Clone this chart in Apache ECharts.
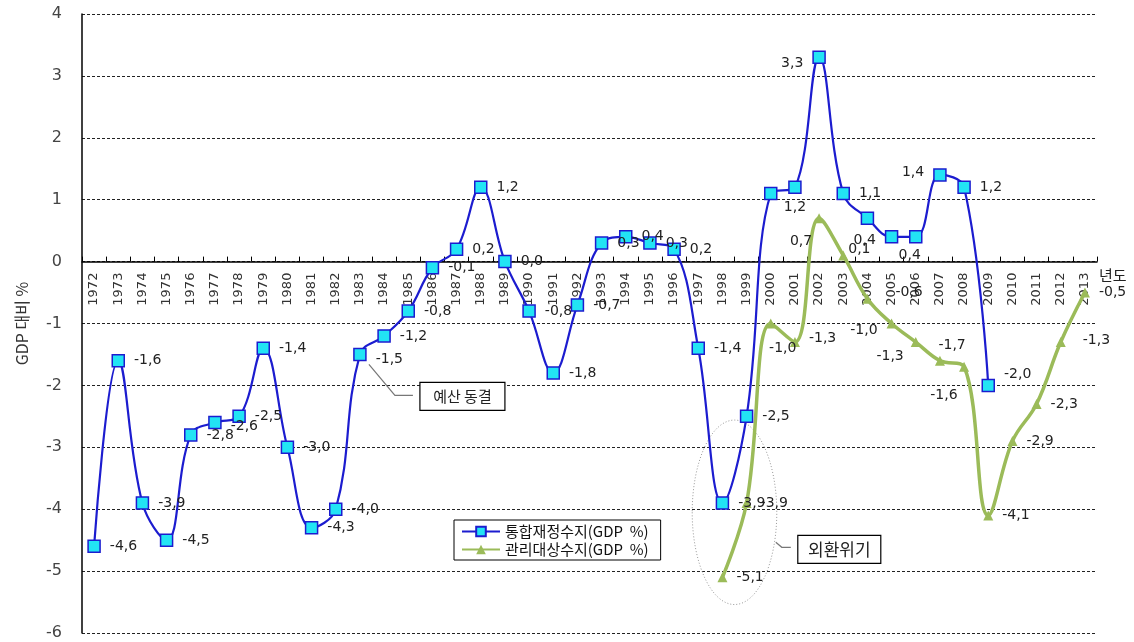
<!DOCTYPE html>
<html>
<head>
<meta charset="utf-8">
<script src="https://cdn.jsdelivr.net/npm/echarts@6/dist/echarts.min.js"></script>
<style>
html,body{margin:0;padding:0;background:#fff;}
#chart{width:1134px;height:642px;}
</style>
</head>
<body>
<div id="chart"></div>
<script>
// ---- data ----
const years = ['1972','1973','1974','1975','1976','1977','1978','1979','1980','1981','1982','1983','1984','1985','1986','1987','1988','1989','1990','1991','1992','1993','1994','1995','1996','1997','1998','1999','2000','2001','2002','2003','2004','2005','2006','2007','2008','2009','2010','2011','2012','2013'];
const consolidatedBalance = [-4.6,-1.6,-3.9,-4.5,-2.8,-2.6,-2.5,-1.4,-3.0,-4.3,-4.0,-1.5,-1.2,-0.8,-0.1,0.2,1.2,0.0,-0.8,-1.8,-0.7,0.3,0.4,0.3,0.2,-1.4,-3.9,-2.5,1.1,1.2,3.3,1.1,0.7,0.4,0.4,1.4,1.2,-2.0,null,null,null,null];
const managedBalance = [null,null,null,null,null,null,null,null,null,null,null,null,null,null,null,null,null,null,null,null,null,null,null,null,null,null,-5.1,-3.9,-1.0,-1.3,0.7,0.1,-0.6,-1.0,-1.3,-1.6,-1.7,-4.1,-2.9,-2.3,-1.3,-0.5];
const yTicks = {min:-6, max:4, interval:1};
const seriesNames = ['통합재정수지(GDP  %)','관리대상수지(GDP  %)'];
const yAxisName = 'GDP 대비 %';
const xAxisName = '년도';
const notes = {budgetFreeze:'예산 동결', crisis:'외환위기'};

// ---- label placement (style only) ----
const numFont = 'DejaVu Sans';
const blueLabelPlace = {
  '1977': {offset:[0,4]},
  '1983': {offset:[0,5]},
  '2000': {show:false},
  '2001': {position:'bottom', distance:6},
  '2002': {position:'left', offset:[0,6]},
  '2004': {show:false},
  '2005': {position:'left', offset:[0,4]},
  '2006': {position:'bottom', offset:[-6,-4]},
  '2007': {position:'left', offset:[0,-3]},
  '2009': {offset:[0,-11]}
};
const greenLabelPlace = {
  '2000': {position:'bottom', offset:[12,4]},
  '2001': {offset:[0,-4]},
  '2002': {position:'bottom', offset:[-18,2]},
  '2003': {position:'right', distance:0, offset:[0,-6]},
  '2004': {offset:[14,-6]},
  '2005': {position:'left', offset:[0,7]},
  '2006': {position:'left', offset:[2,14]},
  '2007': {position:'bottom', offset:[4,14]},
  '2008': {position:'top', offset:[-12,0]},
  '2012': {offset:[8,-2]}
};
function fmt(v){ return v.toFixed(1).replace('.', ','); }
function buildData(values, place){
  return values.map((v,i)=>{
    if(v===null) return null;
    const p = place[years[i]];
    return p ? {value:v, label:Object.assign({}, p)} : v;
  });
}

const chart = echarts.init(document.getElementById('chart'));
const labelBase = {show:true, position:'right', distance:9, fontFamily:numFont, fontSize:14, color:'#222',
  formatter: p => fmt(p.value)};

const option = {
  animation:false,
  backgroundColor:'#fff',
  grid:{left:82, right:37, top:14, bottom:9, containLabel:false, outerBoundsMode:'none'},
  legend:{
    orient:'vertical', left:454, top:520,
    backgroundColor:'#fff', borderColor:'#000', borderWidth:1, borderRadius:0,
    padding:[4,12,3,7], itemGap:3, itemWidth:38, itemHeight:12,
    textStyle:{fontFamily:'Noto Sans CJK KR', fontSize:15, color:'#111'},
    data:seriesNames
  },
  xAxis:{
    type:'category', data:years, boundaryGap:true, position:'bottom', offset:0,
    name:xAxisName, nameLocation:'end', nameGap:2,
    nameTextStyle:{fontFamily:'Noto Sans CJK KR', fontSize:15, color:'#222', align:'left', verticalAlign:'top', padding:[6,0,0,0]},
    axisLine:{onZero:false, lineStyle:{color:'#000', width:1.5}},
    axisTick:{show:true, inside:true, length:5, interval:0, lineStyle:{color:'#000'}},
    axisLabel:{interval:0, rotate:90, margin:11, fontFamily:numFont, fontSize:13, color:'#333'},
    splitLine:{show:false}
  },
  yAxis:{
    type:'value', min:yTicks.min, max:yTicks.max, interval:yTicks.interval,
    name:yAxisName, nameLocation:'middle', nameGap:52, nameRotate:90,
    nameTextStyle:{fontFamily:'Noto Sans CJK KR', fontSize:16, color:'#333'},
    axisLine:{show:true, lineStyle:{color:'#000', width:1.5}},
    axisTick:{show:false},
    axisLabel:{margin:20, fontFamily:numFont, fontSize:16, color:'#444'},
    splitLine:{show:true, lineStyle:{color:'#222', width:1, type:[3,2]}}
  },
  series:[
    {
      name:seriesNames[0], type:'line', smooth:0.4, connectNulls:false,
      data:buildData(consolidatedBalance, blueLabelPlace),
      lineStyle:{color:'#1c1ccf', width:2.2},
      itemStyle:{color:'#22e4f4', borderColor:'#1c1ccf', borderWidth:1.5},
      symbol:'rect', symbolSize:12, showAllSymbol:true,
      label:labelBase, z:3
    },
    {
      name:seriesNames[1], type:'line', smooth:0.4, connectNulls:false,
      data:buildData(managedBalance, greenLabelPlace),
      lineStyle:{color:'#9bbb59', width:3.5},
      itemStyle:{color:'#9bbb59', borderColor:'#9bbb59', borderWidth:0},
      symbol:'triangle', symbolSize:10, showAllSymbol:true,
      label:labelBase, z:2
    }
  ]
};
chart.setOption(option);

function px(cat, val){ return chart.convertToPixel({xAxisIndex:0, yAxisIndex:0}, [cat, val]); }

// move the category axis up to the zero line (repeat in case the layout reflows)
for (let k = 0; k < 3; k++) {
  const zeroY = px('1972', 0)[1];
  const bottomY = px('1972', yTicks.min)[1];
  chart.setOption({xAxis:{offset:-(bottomY - zeroY)}});
}

// ---- annotations anchored to data coordinates ----
const a1 = px('1983', -1.5);
const c1 = px('1998', -4.05), c2 = px('1999', -4.05);
const ecx = (c1[0]+c2[0])/2, ecy = c1[1];
const catW = c2[0]-c1[0];
const unitH = px('1998', -4)[1] - px('1998', -5)[1];
const erx = catW*1.75, ery = unitH*1.49;

chart.setOption({
  graphic:[
    {type:'polyline', z:10, silent:true,
      shape:{points:[[a1[0]+9,a1[1]+10],[a1[0]+35,a1[1]+41],[a1[0]+53,a1[1]+41]]},
      style:{stroke:'#777', lineWidth:1.2, fill:null}},
    {type:'group', z:10, x:a1[0]+60, y:a1[1]+28, children:[
      {type:'rect', shape:{x:0,y:0,width:85,height:28}, style:{fill:'#fff', stroke:'#000', lineWidth:1.2}},
      {type:'text', x:42.5, y:14, style:{text:notes.budgetFreeze, fontFamily:'Noto Sans CJK KR', fontSize:15, fill:'#222', align:'center', verticalAlign:'middle'}}
    ]},
    {type:'ellipse', z:1, silent:true,
      shape:{cx:ecx, cy:ecy, rx:erx, ry:ery},
      style:{fill:null, stroke:'#999', lineWidth:1, lineDash:[1,2]}},
    {type:'polyline', z:10, silent:true,
      shape:{points:[[ecx+erx-1, ecy+30],[ecx+erx+5, ecy+35],[ecx+erx+14, ecy+35]]},
      style:{stroke:'#777', lineWidth:1.2, fill:null}},
    {type:'group', z:10, x:ecx+erx+21, y:ecy+23, children:[
      {type:'rect', shape:{x:0,y:0,width:83,height:28}, style:{fill:'#fff', stroke:'#000', lineWidth:1.2}},
      {type:'text', x:41.5, y:14, style:{text:notes.crisis, fontFamily:'Noto Sans CJK KR', fontSize:17, fill:'#222', align:'center', verticalAlign:'middle'}}
    ]}
  ]
});
</script>
</body>
</html>
